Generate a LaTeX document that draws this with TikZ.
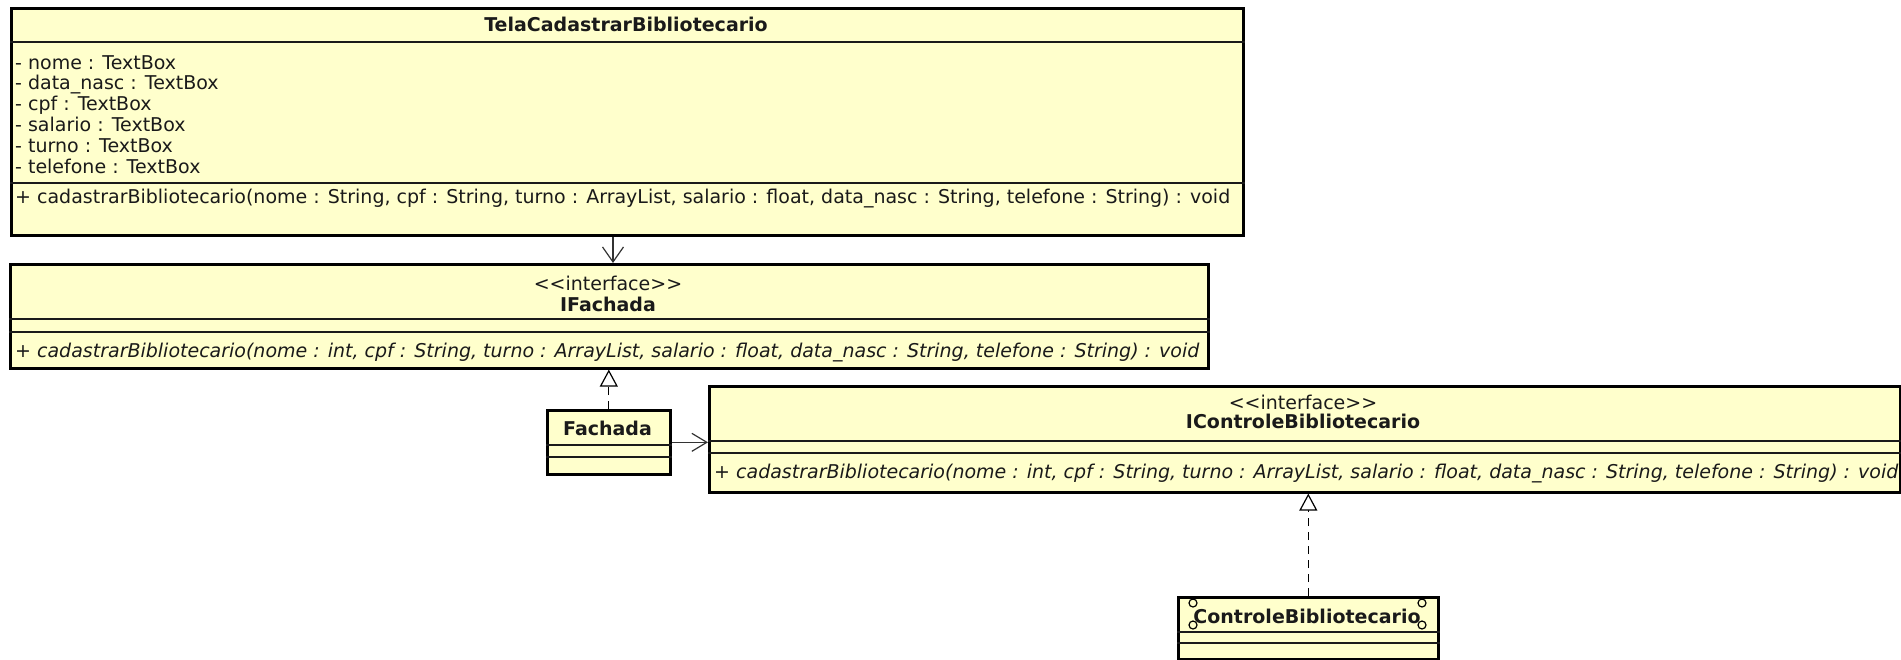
\documentclass[tikz,border=0pt]{standalone}
\usepackage{fontspec}
\setmainfont{DejaVu Sans}
\usetikzlibrary{arrows.meta}
\definecolor{classfill}{HTML}{FFFFCC}
\definecolor{ink}{HTML}{1A1A1A}
\definecolor{wire}{HTML}{333333}
\tikzset{
  x=1pt, y=-1pt,
  classbox/.style={draw=black, line width=2.6pt, fill=classfill, rectangle, inner sep=0pt, anchor=north west},
  sepline/.style={draw=ink, line width=1.1pt},
  txt/.style={inner sep=0pt, text height=14pt, text depth=0pt, font=\fontsize{19}{21}\selectfont, text=ink},
  lefttxt/.style={txt, anchor=west},
  boldtxt/.style={txt, font=\fontsize{19}{21}\selectfont\bfseries},
  itxt/.style={lefttxt, font=\fontsize{19}{21}\selectfont\itshape},
  deparrow/.style={draw=wire, line width=1.2pt, -{Straight Barb[length=15pt, width=21pt, line width=1.2pt]}},
  assocarrow/.style={draw=wire, line width=1.2pt, -{Straight Barb[length=15pt, width=18pt, line width=1.2pt]}},
  realarrow/.style={draw=black, line width=1.3pt, dash pattern=on 8pt off 6pt, -{Triangle[length=17pt, width=18pt, fill=white, line width=1.2pt]}},
  knob/.style={draw=black, line width=1.2pt, fill=classfill}
}
\begin{document}
\begin{tikzpicture}
\useasboundingbox (0,0) rectangle (1901,659);

% ---------- TelaCadastrarBibliotecario ----------
\node[classbox, minimum width=1232pt, minimum height=227pt] (tela) at (10,7) {};
\draw[sepline] (tela.west |- 0,42) -- (tela.east |- 0,42);
\draw[sepline] (tela.west |- 0,183) -- (tela.east |- 0,183);
\node[boldtxt] (telaname) at (626,24.5) {TelaCadastrarBibliotecario};
\node[lefttxt] (a1) at (15,62) {- nome : TextBox};
\node[lefttxt] (a2) at (15,82.8) {- data\_nasc : TextBox};
\node[lefttxt] (a3) at (15,103.6) {- cpf : TextBox};
\node[lefttxt] (a4) at (15,124.4) {- salario : TextBox};
\node[lefttxt] (a5) at (15,145.2) {- turno : TextBox};
\node[lefttxt] (a6) at (15,166) {- telefone : TextBox};
\node[lefttxt] (m1) at (15,196) {+ cadastrarBibliotecario(nome : String, cpf : String, turno : ArrayList, salario : float, data\_nasc : String, telefone : String) : void};

% ---------- IFachada ----------
\node[classbox, minimum width=1198pt, minimum height=104pt] (ifach) at (9,263) {};
\draw[sepline] (ifach.west |- 0,319) -- (ifach.east |- 0,319);
\draw[sepline] (ifach.west |- 0,332) -- (ifach.east |- 0,332);
\node[txt] (ifachst) at (608,283) {<{}<interface>{}>};
\node[boldtxt] (ifachname) at (608,304) {IFachada};
\node[itxt] (m2) at (15,350) {+ cadastrarBibliotecario(nome : int, cpf : String, turno : ArrayList, salario : float, data\_nasc : String, telefone : String) : void};

% ---------- Fachada ----------
\node[classbox, minimum width=123pt, minimum height=64pt] (fach) at (546,409) {};
\draw[sepline] (fach.west |- 0,445) -- (fach.east |- 0,445);
\draw[sepline] (fach.west |- 0,457) -- (fach.east |- 0,457);
\node[boldtxt] (fachname) at (607.5,428) {Fachada};

% ---------- IControleBibliotecario ----------
\node[classbox, minimum width=1191pt, minimum height=106pt] (icb) at (708,385) {};
\draw[sepline] (icb.west |- 0,441) -- (icb.east |- 0,441);
\draw[sepline] (icb.west |- 0,453) -- (icb.east |- 0,453);
\node[txt] (icbst) at (1303,402) {<{}<interface>{}>};
\node[boldtxt] (icbname) at (1303,421) {IControleBibliotecario};
\node[itxt] (m3) at (714,471) {+ cadastrarBibliotecario(nome : int, cpf : String, turno : ArrayList, salario : float, data\_nasc : String, telefone : String) : void};

% ---------- ControleBibliotecario ----------
\node[classbox, minimum width=260pt, minimum height=62pt] (ctrl) at (1177,596) {};
\draw[sepline] (ctrl.west |- 0,632) -- (ctrl.east |- 0,632);
\draw[sepline] (ctrl.west |- 0,643) -- (ctrl.east |- 0,643);
\node[boldtxt] (ctrlname) at (1307,616) {ControleBibliotecario};
\draw[knob] (1193,603) circle (4pt);
\draw[knob] (1193,625) circle (4pt);
\draw[knob] (1422,603) circle (4pt);
\draw[knob] (1422,625) circle (4pt);

% ---------- connectors ----------
\coordinate (depx) at (613,0);
\draw[deparrow] (tela.south -| depx) -- (ifach.north -| depx);
\draw[realarrow] (fach.north) -- (ifach.south -| fach.north);
\draw[assocarrow] (fach.east) -- (fach.east -| icb.west);
\draw[realarrow] (ctrl.north) -- (ctrl.north |- icb.south);
\end{tikzpicture}
\end{document}
